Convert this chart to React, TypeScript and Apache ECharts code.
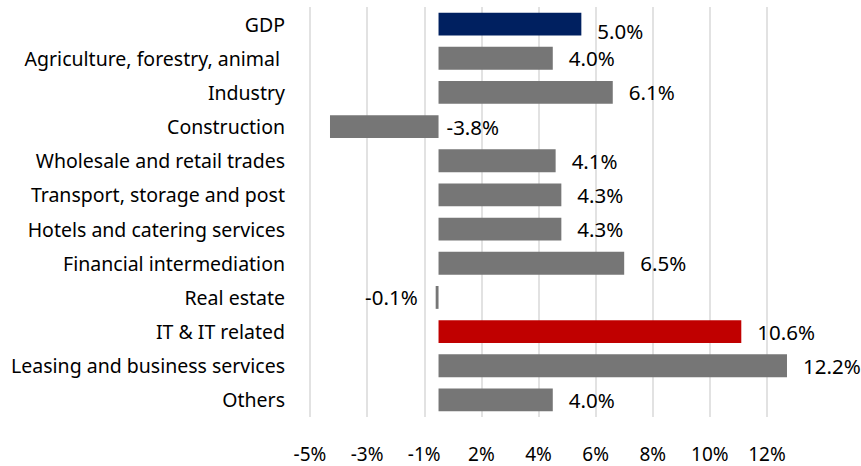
import React, { useEffect, useRef } from "react";
import * as echarts from "echarts";

const categories = [
  "GDP",
  "Agriculture, forestry, animal ",
  "Industry",
  "Construction",
  "Wholesale and retail trades",
  "Transport, storage and post",
  "Hotels and catering services",
  "Financial intermediation",
  "Real estate",
  "IT & IT related",
  "Leasing and business services",
  "Others",
];
const values = [5.0, 4.0, 6.1, -3.8, 4.1, 4.3, 4.3, 6.5, -0.1, 10.6, 12.2, 4.0];
const highlightColors: Record<string, string> = {
  GDP: "#002060",
  "IT & IT related": "#C00000",
};
const baseColor = "#767676";

const FONT = "Noto Sans";

export default function App() {
  const ref = useRef<HTMLDivElement>(null);
  useEffect(() => {
    if (!ref.current) return;
    const chart = echarts.init(ref.current, null, { renderer: "svg" });
    const data = values.map((v, i) => {
      const name = categories[i];
      const item: any = {
        value: v,
        itemStyle: { color: highlightColors[name] || baseColor },
      };
      if (v < 0 && v > -1) {
        item.label = { position: "left", distance: 18 };
      } else if (v < 0) {
        item.label = { position: "right", distance: 8 };
      }
      if (name === "GDP") {
        item.label = { offset: [0, 7] };
      }
      return item;
    });
    chart.setOption({
      animation: false,
      grid: { left: 310, right: 94, top: 7, height: 410, containLabel: false },
      xAxis: {
        type: "value",
        min: -4.5,
        max: 11.5,
        interval: 2,
        axisLine: { show: false },
        axisTick: { show: false },
        splitLine: { show: true, lineStyle: { color: "#D9D9D9", width: 1.5 } },
        axisLabel: {
          margin: 27,
          fontFamily: FONT,
          fontSize: 19,
          color: "#000",
          formatter: (v: number) => {
            const r = Math.sign(v) * Math.round(Math.abs(v));
            return r + "%";
          },
        },
      },
      yAxis: {
        type: "category",
        data: categories,
        inverse: true,
        axisLine: { show: false },
        axisTick: { show: false },
        splitLine: { show: false },
        axisLabel: {
          margin: 25,
          fontFamily: FONT,
          fontSize: 19.5,
          color: "#000",
        },
      },
      series: [
        {
          type: "bar",
          data,
          clip: false,
          barCategoryGap: "33%",
          label: {
            show: true,
            position: "right",
            distance: 16,
            fontFamily: FONT,
            fontSize: 20.5,
            color: "#000",
            formatter: (p: any) => Number(p.value).toFixed(1) + "%",
          },
        },
      ],
    });
    return () => chart.dispose();
  }, []);
  return (
    <div
      ref={ref}
      style={{ position: "fixed", left: 0, top: 0, width: 861, height: 466, background: "#fff" }}
    />
  );
}
